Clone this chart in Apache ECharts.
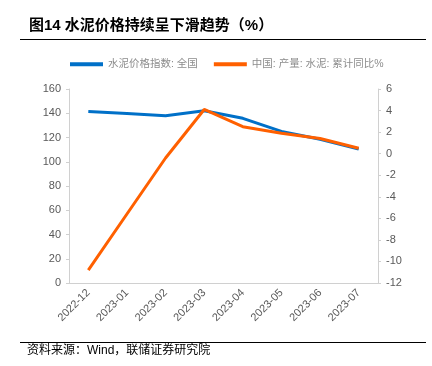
<!DOCTYPE html>
<html>
<head>
<meta charset="utf-8">
<script src="https://cdn.jsdelivr.net/npm/echarts@6/dist/echarts.min.js"></script>
<style>
  html, body { margin: 0; padding: 0; background: #fff; }
  #main { width: 432px; height: 366px; }
</style>
</head>
<body>
<div id="main"></div>
<script>
// 横轴月份
var months = ['2022-12', '2023-01', '2023-02', '2023-03', '2023-04', '2023-05', '2023-06', '2023-07'];
// 水泥价格指数:全国 (左轴)
var priceIndex = [141.5, 139.8, 138, 142, 135.8, 125, 118.5, 110.5];
// 中国:产量:水泥:累计同比% (右轴)
var outputYoY = [-10.8, -5.6, -0.4, 4.1, 2.5, 1.9, 1.4, 0.5];
var leftTicks = { min: 0, max: 160, interval: 20 };
var rightTicks = { min: -12, max: 6, interval: 2 };

var myChart = echarts.init(document.getElementById('main'));
var gray = '#595959';
var axisGray = '#d0d0d0';
var font = 'Liberation Sans, Arial, Noto Sans CJK SC, sans-serif';

var option = {
    animation: false,
    textStyle: { fontFamily: font },
    graphic: [
        {
            type: 'text', left: 29, top: 18,
            style: { text: '图14 水泥价格持续呈下滑趋势（%）', font: 'bold 15px ' + font, fill: '#000' }
        },
        {
            type: 'line', shape: { x1: 20, y1: 39.5, x2: 426, y2: 39.5 },
            style: { stroke: '#000', lineWidth: 1 }
        },
        {
            type: 'line', shape: { x1: 20, y1: 342.5, x2: 426, y2: 342.5 },
            style: { stroke: '#000', lineWidth: 1 }
        },
        {
            type: 'text', left: 27, top: 345,
            style: { text: '资料来源：Wind，联储证券研究院', font: '12px ' + font, fill: '#000' }
        }
    ],
    legend: {
        top: 54,
        left: 65,
        itemWidth: 33,
        itemHeight: 4,
        itemGap: 16,
        icon: 'rect',
        textStyle: { color: '#8c8c8c', fontSize: 10.5 },
        data: ['水泥价格指数: 全国', '中国: 产量: 水泥: 累计同比%']
    },
    grid: { left: 69, right: 54, top: 89, bottom: 83 },
    xAxis: {
        type: 'category',
        data: months,
        boundaryGap: true,
        axisLine: { lineStyle: { color: axisGray } },
        axisTick: { inside: true, length: 4, lineStyle: { color: axisGray } },
        axisLabel: { color: gray, fontSize: 11, rotate: 45, margin: 8 }
    },
    yAxis: [
        {
            type: 'value',
            min: leftTicks.min, max: leftTicks.max, interval: leftTicks.interval,
            axisLine: { show: true, lineStyle: { color: axisGray } },
            axisTick: { show: true, length: 3, lineStyle: { color: axisGray } },
            axisLabel: { color: gray, fontSize: 11, margin: 8 },
            splitLine: { show: false }
        },
        {
            type: 'value',
            min: rightTicks.min, max: rightTicks.max, interval: rightTicks.interval,
            axisLine: { show: true, lineStyle: { color: axisGray } },
            axisTick: { show: true, length: 3, lineStyle: { color: axisGray } },
            axisLabel: { color: gray, fontSize: 11, margin: 8 },
            splitLine: { show: false }
        }
    ],
    series: [
        {
            name: '水泥价格指数: 全国',
            type: 'line',
            yAxisIndex: 0,
            data: priceIndex,
            symbol: 'none',
            itemStyle: { color: '#0070c8' },
            lineStyle: { color: '#0070c8', width: 3 }
        },
        {
            name: '中国: 产量: 水泥: 累计同比%',
            type: 'line',
            yAxisIndex: 1,
            data: outputYoY,
            symbol: 'none',
            itemStyle: { color: '#ff6000' },
            lineStyle: { color: '#ff6000', width: 3 }
        }
    ]
};
myChart.setOption(option);
</script>
</body>
</html>
